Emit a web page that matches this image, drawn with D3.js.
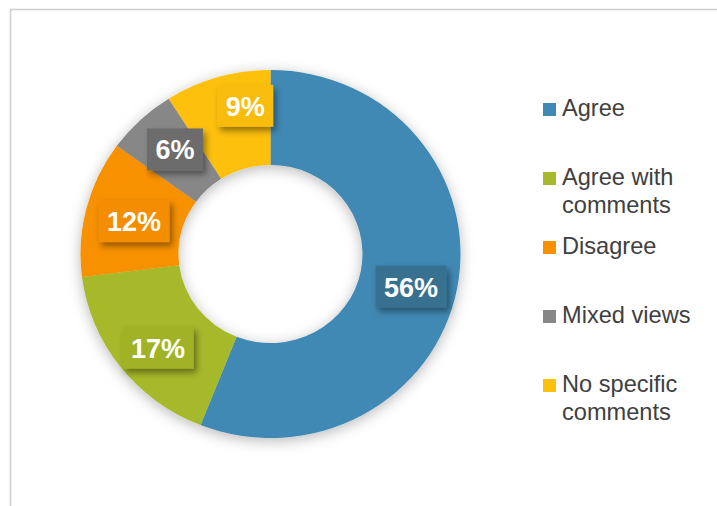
<!DOCTYPE html>
<html>
<head>
<meta charset="utf-8">
<script src="https://cdn.jsdelivr.net/npm/d3@7"></script>
<style>
  html, body { margin: 0; padding: 0; background: #fff; }
  svg { display: block; font-family: "Liberation Sans", Arial, sans-serif; }
</style>
</head>
<body>
<svg id="chart"></svg>
<script>
// data
const categories = ["Agree", "Agree with comments", "Disagree", "Mixed views", "No specific comments"];
const values = [56, 17, 12, 6, 9];
const legendLines = [["Agree"], ["Agree with", "comments"], ["Disagree"], ["Mixed views"], ["No specific", "comments"]];

// styles
const sliceColors = ["#3f89b4", "#a6b92a", "#f79100", "#878787", "#fdc00c"];
const boxColors   = ["#37708f", "#a0b326", "#f48d00", "#6c6c6c", "#f8bc0c"];
// hand-placed label nudges (Excel labels were dragged a little)
const labelNudge = [[2, 7], [-1, 10], [0, 1], [1, -5], [14, -17]];

const W = 717, H = 506;
const cx = 270.5, cy = 254;
const R = 190, r = 92;
const sy = 184 / 190; // chart was squashed a bit vertically

const svg = d3.select("#chart").attr("width", W).attr("height", H);

const defs = svg.append("defs");
defs.append("filter").attr("id", "ringShadow")
  .attr("x", "-20%").attr("y", "-20%").attr("width", "140%").attr("height", "140%")
  .append("feDropShadow")
  .attr("dx", 0).attr("dy", 3).attr("stdDeviation", 7)
  .attr("flood-color", "#000").attr("flood-opacity", 0.28);
defs.append("filter").attr("id", "boxShadow")
  .attr("x", "-30%").attr("y", "-30%").attr("width", "170%").attr("height", "170%")
  .append("feDropShadow")
  .attr("dx", 3).attr("dy", 4).attr("stdDeviation", 3)
  .attr("flood-color", "#000").attr("flood-opacity", 0.4);

// chart area border (runs off the right and bottom)
svg.append("rect")
  .attr("x", 10.5).attr("y", 9.5)
  .attr("width", W + 20).attr("height", H + 20)
  .attr("fill", "#fff")
  .attr("stroke", "#cfcfcf").attr("stroke-width", 1.6);

const pie = d3.pie().sort(null).value(d => d);
const arcs = pie(values);
const arc = d3.arc().innerRadius(r).outerRadius(R);
const mid = d3.arc().innerRadius((R + r) / 2).outerRadius((R + r) / 2);

const ring = svg.append("g")
  .attr("transform", `translate(${cx},${cy}) scale(1,${sy})`)
  .attr("filter", "url(#ringShadow)");

ring.selectAll("path")
  .data(arcs)
  .join("path")
  .attr("d", arc)
  .attr("fill", (d, i) => sliceColors[i]);

// data labels
const labels = svg.append("g").attr("transform", `translate(${cx},${cy})`);
arcs.forEach((d, i) => {
  const [mx, my] = mid.centroid(d);
  const lx = mx + labelNudge[i][0];
  const ly = my * sy + labelNudge[i][1];
  const g = labels.append("g").attr("transform", `translate(${lx},${ly})`);
  const t = g.append("text")
    .attr("text-anchor", "middle")
    .attr("y", 10)
    .attr("fill", "#fff")
    .attr("font-weight", "bold")
    .attr("font-size", 27)
    .text(d3.format(".0f")(d.data) + "%");
  const bw = t.node().getComputedTextLength() + 17;
  g.insert("rect", "text")
    .attr("x", -bw / 2).attr("y", -21)
    .attr("width", bw).attr("height", 42)
    .attr("fill", boxColors[i])
    .attr("filter", "url(#boxShadow)");
});

// legend
const lg = svg.append("g").attr("transform", "translate(543,116)");
categories.forEach((c, i) => {
  const y0 = i * 69;
  lg.append("rect")
    .attr("x", 0).attr("y", y0 - 13)
    .attr("width", 13).attr("height", 13)
    .attr("fill", sliceColors[i]);
  const t = lg.append("text")
    .attr("x", 19).attr("y", y0)
    .attr("font-size", 23.6)
    .attr("fill", "#404040");
  legendLines[i].forEach((line, k) => {
    t.append("tspan").attr("x", 19).attr("y", y0 + k * 28).text(line);
  });
});
</script>
</body>
</html>
